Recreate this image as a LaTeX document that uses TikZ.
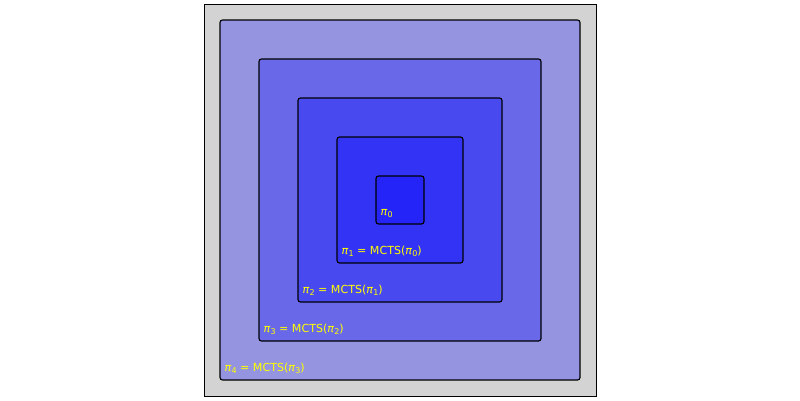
\documentclass[tikz,border=0pt]{standalone}
\usepackage{fontspec}
\setmainfont{DejaVu Sans}
\definecolor{bgc}{RGB}{211,211,211}
\definecolor{cfour}{RGB}{148,148,224}
\definecolor{cthree}{RGB}{104,104,233}
\definecolor{ctwo}{RGB}{73,73,240}
\definecolor{cone}{RGB}{51,51,245}
\definecolor{czero}{RGB}{36,36,248}
\definecolor{lblc}{RGB}{255,255,0}
\newcommand{\mypi}[1]{\textit{π}\raisebox{-0.22em}{\fontsize{8}{9}\selectfont #1}}
\begin{document}
\begin{tikzpicture}[x=1pt,y=-1pt,
  box/.style={draw=black, line width=1.1pt, rounded corners=2.5pt, inner sep=0pt, outer sep=0pt},
  lbl/.style={text=lblc, font=\fontsize{11.1}{12}\selectfont, anchor=base west, inner sep=0pt}]
\useasboundingbox (0,0) rectangle (800,400);
\node[draw=black, line width=0.8pt, fill=bgc, minimum width=392pt, minimum height=392pt, inner sep=0pt] (frame) at (400,200) {};
\node[box, fill=cfour, minimum width=360pt, minimum height=360pt] (b4) at (400,200) {};
\node[box, fill=cthree, minimum width=282pt, minimum height=282pt] (b3) at (400,200) {};
\node[box, fill=ctwo, minimum width=204pt, minimum height=204pt] (b2) at (400,200) {};
\node[box, fill=cone, minimum width=126pt, minimum height=126pt] (b1) at (400,200) {};
\node[box, fill=czero, minimum width=48pt, minimum height=48pt] (b0) at (400,200) {};
\node[lbl] (l4) at (224.5,371) {\mypi{4} = MCTS(\mypi{3})};
\node[lbl] (l3) at (263.5,332) {\mypi{3} = MCTS(\mypi{2})};
\node[lbl] (l2) at (302.5,293) {\mypi{2} = MCTS(\mypi{1})};
\node[lbl] (l1) at (341.5,254) {\mypi{1} = MCTS(\mypi{0})};
\node[lbl] (l0) at (380.5,215) {\mypi{0}};
\end{tikzpicture}
\end{document}
